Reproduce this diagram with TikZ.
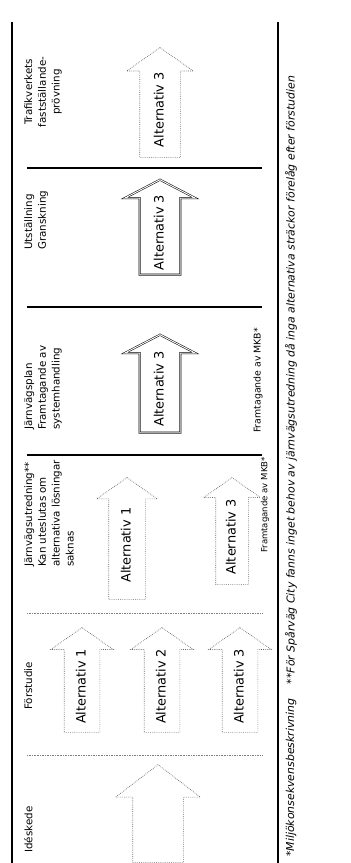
\documentclass[tikz,border=0pt]{standalone}
\usepackage{fontspec}
\setmainfont{DejaVu Sans}
\usetikzlibrary{positioning,shapes.arrows}

\begin{document}
\begin{tikzpicture}
  [x=0.3mm,y=0.3mm,
   rubrik/.style={anchor=north west,align=left,inner sep=0pt,font=\fontsize{8.8}{11.8}\selectfont},
   mkb/.style={anchor=west,inner sep=0pt,font=\fontsize{8}{10}\selectfont},
   pil/.style={single arrow,anchor=tail,inner xsep=0pt,text height=2.6mm,text depth=0.4mm,
     font=\fontsize{11}{12}\selectfont,single arrow tip angle=110},
   fast/.style={pil,draw,double,double distance=0.8pt,line width=0.45pt,single arrow tip angle=125},
   svag/.style={pil,draw=black!60,densely dotted,line width=0.6pt},
   fot/.style={anchor=west,inner sep=0pt,font=\fontsize{9.3}{11}\selectfont\itshape}]
  \useasboundingbox (0,0) rectangle (350,863);
  \begin{scope}[rotate=90,transform shape]
  \draw[line width=1.4pt] (0,-12) -- (841,-12);
  \draw[line width=1pt] (0,-278) -- (841,-278);
  \foreach \u in {408,556,695}
    \draw[line width=1.1pt] (\u,-27) -- (\u,-262);
  \foreach \u in {108,250}
    \draw[densely dotted,draw=black!50] (\u,-27) -- (\u,-262);

  \node[rubrik] (hIde) at (10,-24) {Idéskede};
  \node[rubrik] (hForst) at (153,-24) {Förstudie};
  \node[rubrik] (hUtr) at (296,-24) {Järnvägsutredning**\\Kan uteslutas om\\alternativa lösningar\\saknas};
  \node[rubrik] (hPlan) at (433,-24) {Järnvägsplan\\Framtagande av\\systemhandling};
  \node[rubrik] (hUtst) at (613,-24) {Utställning\\Granskning};
  \node[rubrik,anchor=north,align=center] (hTrv) at (771,-24) {Trafikverkets\\fastställande-\\prövning};

  \node[svag,minimum height=29.4mm,minimum width=25.2mm,inner ysep=6mm,single arrow head extend=5.1mm,single arrow tip angle=105] (pilIde) at (0,-158) {};
  \node[svag,minimum height=31.5mm,minimum width=18.6mm,inner ysep=3.75mm,single arrow head extend=4mm] (pilF1) at (130,-82) {Alternativ 1};
  \node[svag,minimum height=31.5mm,minimum width=18.6mm,inner ysep=3.75mm,single arrow head extend=4mm] (pilF2) at (130,-162) {Alternativ 2};
  \node[svag,minimum height=31.5mm,minimum width=18.6mm,inner ysep=3.75mm,single arrow head extend=4mm] (pilF3) at (130,-240) {Alternativ 3};
  \node[svag,minimum height=36.6mm,minimum width=18mm,inner ysep=3.9mm,single arrow head extend=3.6mm] (pilU1) at (263,-127) {Alternativ 1};
  \node[svag,minimum height=32.1mm,minimum width=16.8mm,inner ysep=3.3mm,single arrow head extend=3.6mm] (pilU3) at (278,-232) {Alternativ 3};
  \node[fast,minimum height=29.4mm,minimum width=21mm,inner ysep=4.5mm,single arrow head extend=4.5mm] (pilP3) at (430,-160) {Alternativ 3};
  \node[fast,minimum height=28.5mm,minimum width=21mm,inner ysep=4.5mm,single arrow head extend=4.5mm] (pilS3) at (588,-160) {Alternativ 3};
  \node[svag,minimum height=33mm,minimum width=19.8mm,inner ysep=4.5mm,single arrow head extend=3.9mm] (pilT3) at (705,-160) {Alternativ 3};

  \node[mkb,font=\fontsize{7.3}{9}\selectfont] (mkbU) at (310,-265) {Framtagande av MKB*};
  \node[mkb] (mkbP) at (430,-258) {Framtagande av MKB*};

  \node[fot] (fnA) at (6,-291) {*Miljökonsekvensbeskrivning};
  \node[fot,right=12pt of fnA] (fnB) {**För Spårväg City fanns inget behov av järnvägsutredning då inga alternativa sträckor förelåg efter förstudien};
  \end{scope}
\end{tikzpicture}
\end{document}
